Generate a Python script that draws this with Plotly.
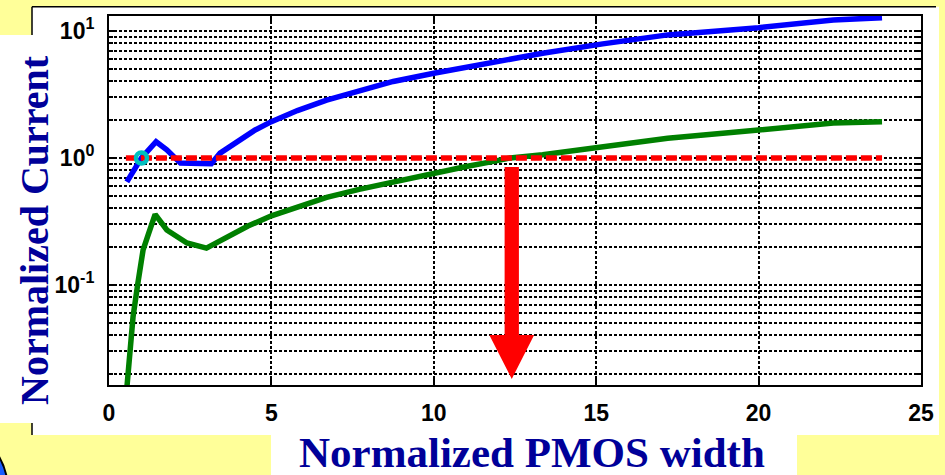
import math
import plotly.graph_objects as go

# ---- data -------------------------------------------------------------
# Normalized PMOS width (x) vs normalized current (y)
blue_x = [0.55, 1.0, 1.45, 1.78, 2.2, 2.7, 3.15, 3.42, 4.0, 4.5, 5.0, 5.8, 6.7,
          7.7, 8.75, 10.0, 11.0, 11.8, 13.35, 15.2, 17.2, 20.0, 22.3, 23.8]
blue_y = [0.647, 1.0, 1.34, 1.16, 0.91, 0.90, 0.90, 1.09, 1.37, 1.66, 1.93, 2.36, 2.85,
          3.40, 4.0, 4.64, 5.17, 5.63, 6.67, 7.9, 9.3, 10.6, 12.2, 12.7]

green_x = [0.55, 0.65, 0.74, 0.89, 1.05, 1.2, 1.42, 1.78, 2.4, 3.0, 3.63, 4.28, 5.0,
           5.8, 6.7, 7.7, 8.75, 10.0, 11.0, 11.8, 12.35, 13.35, 15.2, 17.2, 20.0,
           22.3, 23.8]
green_y = [0.0155, 0.031, 0.056, 0.104, 0.189, 0.246, 0.36, 0.271, 0.214, 0.195,
           0.239, 0.291, 0.35, 0.413, 0.49, 0.566, 0.65, 0.767, 0.856, 0.935, 1.0,
           1.06, 1.23, 1.43, 1.66, 1.88, 1.93]

ref_x = [0.52, 23.8]
ref_y = [1.0, 1.0]

marker_x = [1.0]
marker_y = [1.0]

# down arrow marking the width where the green curve reaches 1
arrow_x = 12.4
arrow_top = 0.85
arrow_tip = 0.0182

x_ticks = [0, 5, 10, 15, 20, 25]
y_tickvals = [0.1, 1, 10]
y_ticktext = ["10<sup>-1</sup>", "10<sup>0</sup>", "10<sup>1</sup>"]
y_minor_decades = [0.01, 0.1, 1, 10]
y_minor_digits = [2, 3, 4, 5, 6, 7, 8, 9]

x_range = [0, 25]
y_range_lin = [0.0163, 13.1]

# ---- page geometry ------------------------------------------------------
W, H = 945, 475
ML, MR, MT, MB = 109, 24, 16, 90
PW, PH = W - ML - MR, H - MT - MB


def px(xp):
    return (xp - ML) / PW


def py(yp):
    return (H - MB - yp) / PH


YELLOW = "#FFFF99"
NAVY = "#000099"
CYAN = "#00BFBF"

y_range = [math.log10(v) for v in y_range_lin]
y_minor = [d * k for d in y_minor_decades for k in y_minor_digits]

# arrow polygon (shaft + head); widths in x-data units, head length in decades
shaft_half = 0.22
head_half = 0.69
head_len = 0.346
head_base = arrow_tip * 10 ** head_len
arrow_poly_x = [arrow_x - shaft_half, arrow_x + shaft_half, arrow_x + shaft_half,
                arrow_x + head_half, arrow_x, arrow_x - head_half,
                arrow_x - shaft_half, arrow_x - shaft_half]
arrow_poly_y = [arrow_top, arrow_top, head_base, head_base, arrow_tip, head_base,
                head_base, arrow_top]

fig = go.Figure()

fig.add_trace(go.Scatter(x=blue_x, y=blue_y, mode="lines",
                         line=dict(color="#0000FF", width=5.5), hoverinfo="skip"))
fig.add_trace(go.Scatter(x=green_x, y=green_y, mode="lines",
                         line=dict(color="#008000", width=5.5), hoverinfo="skip"))
fig.add_trace(go.Scatter(x=ref_x, y=ref_y, mode="lines",
                         line=dict(color="#FF0000", width=5.5, dash="11px,4px"),
                         hoverinfo="skip"))
fig.add_trace(go.Scatter(x=marker_x, y=marker_y, mode="markers",
                         marker=dict(symbol="circle-open", size=11, color=CYAN,
                                     line=dict(color=CYAN, width=4.5)),
                         hoverinfo="skip"))
fig.add_trace(go.Scatter(x=arrow_poly_x, y=arrow_poly_y, mode="lines",
                         fill="toself", fillcolor="#FF0000",
                         line=dict(width=0, color="#FF0000"), hoverinfo="skip"))

grid_style = dict(gridcolor="black", griddash="3px,2px", gridwidth=1.6)

fig.update_xaxes(range=x_range, tickmode="array", tickvals=x_ticks,
                 ticks="inside", ticklen=6, tickwidth=1.5, tickcolor="black",
                 showline=True, linecolor="black", linewidth=2, mirror="ticks",
                 showgrid=True, zeroline=False, ticklabelstandoff=6,
                 tickfont=dict(family="Liberation Sans", size=23, color="black",
                               weight="bold"),
                 **grid_style)

fig.update_yaxes(type="log", range=y_range, tickmode="array",
                 tickvals=y_tickvals, ticktext=y_ticktext,
                 ticks="inside", ticklen=6, tickwidth=1.5, tickcolor="black",
                 showline=True, linecolor="black", linewidth=2, mirror="ticks",
                 showgrid=True, zeroline=False, ticklabelstandoff=8,
                 tickfont=dict(family="Liberation Sans", size=23, color="black",
                               weight="bold"),
                 minor=dict(tickmode="array", tickvals=y_minor, ticks="inside",
                            ticklen=4, tickcolor="black", showgrid=True,
                            **grid_style),
                 **grid_style)

shapes = [
    # white figure panel
    dict(type="rect", xref="paper", yref="paper", x0=px(32), x1=px(939),
         y0=py(435), y1=py(6.7), fillcolor="white", line=dict(width=0),
         layer="below"),
    # panel borders (top and left)
    dict(type="line", xref="paper", yref="paper", x0=px(32), x1=px(936),
         y0=py(6.7), y1=py(6.7), line=dict(color="black", width=1.5),
         layer="below"),
    dict(type="line", xref="paper", yref="paper", x0=px(32), x1=px(32),
         y0=py(6.7), y1=py(435), line=dict(color="black", width=1.5),
         layer="below"),
    # y-title text box
    dict(type="rect", xref="paper", yref="paper", x0=px(0), x1=px(60),
         y0=py(423), y1=py(35), fillcolor="white", line=dict(width=0),
         layer="below"),
    # x-title text box
    dict(type="rect", xref="paper", yref="paper", x0=px(271), x1=px(797),
         y0=py(475), y1=py(420), fillcolor="white", line=dict(width=0),
         layer="below"),
    # decorative blue disc in the lower-left corner
    dict(type="circle", xref="paper", yref="paper", x0=px(-130), x1=px(8),
         y0=py(560), y1=py(422), fillcolor="#1A5CFF",
         line=dict(color="black", width=2), layer="below"),
]

annotations = [
    dict(text="<b>Normalized Current</b>", xref="paper", yref="paper",
         x=px(34), y=py(230), xanchor="center", yanchor="middle",
         textangle=-90, showarrow=False,
         font=dict(family="Liberation Serif", size=40, color=NAVY)),
    dict(text="<b>Normalized PMOS width</b>", xref="paper", yref="paper",
         x=px(532), y=py(478), xanchor="center", yanchor="bottom",
         showarrow=False,
         font=dict(family="Liberation Serif", size=43, color=NAVY)),
]

fig.update_layout(
    width=W, height=H,
    margin=dict(l=ML, r=MR, t=MT, b=MB, autoexpand=False),
    paper_bgcolor=YELLOW, plot_bgcolor="white",
    showlegend=False,
    shapes=shapes, annotations=annotations,
)

fig.write_html("out.html")
